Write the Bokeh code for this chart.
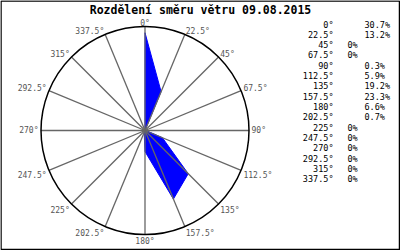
import math
from bokeh.plotting import figure
from bokeh.models import Range1d
from bokeh.core.properties import value
from bokeh.embed import file_html
from bokeh.resources import INLINE

title_text = "Rozdělení směru větru 09.08.2015"
directions = [0, 22.5, 45, 67.5, 90, 112.5, 135, 157.5, 180, 202.5, 225, 247.5, 270, 292.5, 315, 337.5]
dir_labels = ["0°", "22.5°", "45°", "67.5°", "90°", "112.5°", "135°", "157.5°", "180°",
              "202.5°", "225°", "247.5°", "270°", "292.5°", "315°", "337.5°"]
percent = [30.7, 13.2, 0, 0, 0.3, 5.9, 19.2, 23.3, 6.6, 0.7, 0, 0, 0, 0, 0, 0]
percent_labels = ["30.7%", "13.2%", "0%", "0%", "0.3%", "5.9%", "19.2%", "23.3%", "6.6%",
                  "0.7%", "0%", "0%", "0%", "0%", "0%", "0%"]

W, H = 400, 250
CX, CY = 144.5, 130.0
R = 104.0
scale = 0.94 * R / max(percent)
mono = value("DejaVu Sans Mono")

p = figure(width=W, height=H, output_backend="svg", toolbar_location=None,
           x_range=Range1d(0, W), y_range=Range1d(H, 0), min_border=0)
p.axis.visible = False
p.grid.visible = False
p.outline_line_color = None
p.background_fill_color = "white"
p.border_fill_color = "white"

def pol(r, deg):
    a = math.radians(deg)
    return CX + r * math.sin(a), CY - r * math.cos(a)

# wind rose polygon
px, py = [], []
for d, v in zip(directions, percent):
    x, y = pol(v * scale, d)
    px.append(x); py.append(y)
p.patch(px, py, fill_color="#0000ff", line_color="#0000ff", line_width=1)

# spokes
xs, ys = [], []
for d in directions:
    x, y = pol(R, d)
    xs.append([CX, x]); ys.append([CY, y])
p.multi_line(xs, ys, line_color="#666666", line_width=1.3)

# outer circle
p.scatter([CX], [CY], size=2 * R, marker="circle", fill_color=None, line_color="black", line_width=1.5)

# direction labels around circle
RL = 106.5
for d, lab in zip(directions, dir_labels):
    x, y = pol(RL, d)
    s, c = math.sin(math.radians(d)), math.cos(math.radians(d))
    align = "left" if s > 0.1 else ("right" if s < -0.1 else "center")
    base = "alphabetic" if c > 0.1 else ("top" if c < -0.1 else "middle")
    if base == "alphabetic":
        y -= 1
    p.text([x], [y], text=[lab], text_align=align, text_baseline=base,
           text_font=mono, text_font_size="8px", text_color="#555555")

# title
p.text([200], [9], text=[title_text], text_align="center", text_baseline="middle",
       text_font=mono, text_font_size="11.5px", text_font_style="bold", text_color="black")

# legend table
ly = [24 + 10.33 * i for i in range(len(directions))]
p.text([333] * len(directions), ly, text=dir_labels, text_align="right", text_baseline="middle",
       text_font=mono, text_font_size="8.5px", text_color="black")
vx = [347 if v == 0 else 364 for v in percent]
p.text(vx, ly, text=percent_labels, text_align="left", text_baseline="middle",
       text_font=mono, text_font_size="8.5px", text_color="black")

# frame border
p.quad(left=[0.5], right=[399], top=[0.5], bottom=[249], fill_color=None, line_color="black", line_width=1.5)

open("out.html", "w").write(file_html(p, INLINE))
